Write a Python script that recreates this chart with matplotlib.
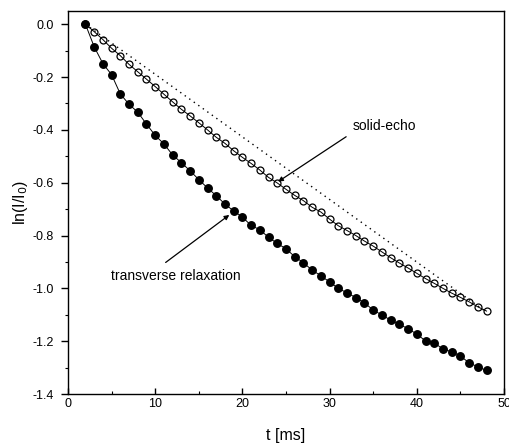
import matplotlib
matplotlib.use("Agg")
import matplotlib.pyplot as plt
from matplotlib.ticker import MultipleLocator, FuncFormatter

plt.rcParams['font.family'] = ['Liberation Sans', 'DejaVu Sans']

t = list(range(2, 49))
transverse = [0.0, -0.085, -0.149, -0.191, -0.264, -0.303, -0.333, -0.378, -0.421, -0.453,
              -0.495, -0.524, -0.555, -0.588, -0.620, -0.649, -0.681, -0.707, -0.730, -0.762,
              -0.778, -0.807, -0.830, -0.850, -0.880, -0.903, -0.931, -0.952, -0.976, -1.000,
              -1.017, -1.035, -1.055, -1.082, -1.101, -1.120, -1.136, -1.153, -1.173, -1.199,
              -1.206, -1.230, -1.240, -1.256, -1.282, -1.297, -1.311]
solid_echo = [0.0, -0.028, -0.058, -0.091, -0.119, -0.152, -0.180, -0.208, -0.236, -0.265,
              -0.294, -0.322, -0.347, -0.373, -0.400, -0.428, -0.451, -0.479, -0.504, -0.527,
              -0.552, -0.580, -0.601, -0.625, -0.648, -0.668, -0.693, -0.711, -0.738, -0.763,
              -0.781, -0.800, -0.821, -0.840, -0.862, -0.884, -0.904, -0.923, -0.943, -0.963,
              -0.981, -1.000, -1.018, -1.034, -1.051, -1.070, -1.086]
dotted_t = [2, 48]
dotted_v = [0.0, -1.09]

fig = plt.figure(figsize=(5.10, 4.44), dpi=100)
ax = fig.add_axes([0.1333, 0.1126, 0.8549, 0.8626])

ax.plot(dotted_t, dotted_v, color='black', linestyle=(0, (1, 3)), linewidth=1.0)
ax.plot(t, solid_echo, color='black', linewidth=0.7, marker='o', markersize=5.0,
        markerfacecolor='none', markeredgecolor='black', markeredgewidth=0.9)
ax.plot(t, transverse, color='black', linewidth=0.7, marker='o', markersize=5.4,
        markerfacecolor='black', markeredgecolor='black')

arrow = dict(arrowstyle='-|>', color='black', lw=0.9, mutation_scale=7, shrinkA=0, shrinkB=0)
ax.annotate('', xy=(24.1, -0.596), xytext=(31.9, -0.426), arrowprops=arrow)
ax.text(32.6, -0.385, 'solid-echo', fontsize=10, ha='left', va='center')
ax.annotate('', xy=(18.5, -0.722), xytext=(11.2, -0.902), arrowprops=arrow)
ax.text(12.4, -0.953, 'transverse relaxation', fontsize=10, ha='center', va='center')

ax.set_xlim(0, 50)
ax.set_ylim(-1.4, 0.05)
ax.xaxis.set_major_locator(MultipleLocator(10))
ax.xaxis.set_minor_locator(MultipleLocator(5))
ax.yaxis.set_major_locator(MultipleLocator(0.2))
ax.yaxis.set_minor_locator(MultipleLocator(0.1))
ax.yaxis.set_major_formatter(FuncFormatter(lambda v, p: f"{v:.1f}".replace('-0.0', '0.0')))

ax.tick_params(axis='y', which='major', direction='out', length=5, width=1.0, labelsize=9, pad=5)
ax.tick_params(axis='y', which='minor', direction='out', length=2.5, width=0.8)
ax.tick_params(axis='x', which='major', direction='in', length=4, width=1.0, labelsize=9, pad=3)
ax.tick_params(axis='x', which='minor', direction='in', length=2.5, width=0.8)

for s in ax.spines.values():
    s.set_linewidth(1.0)

ax.set_xlabel('t [ms]', fontsize=11.5, labelpad=13)
ax.set_ylabel(r'ln(I/I$_0$)', fontsize=11.5, labelpad=2)

fig.savefig('out.png', dpi=100)
